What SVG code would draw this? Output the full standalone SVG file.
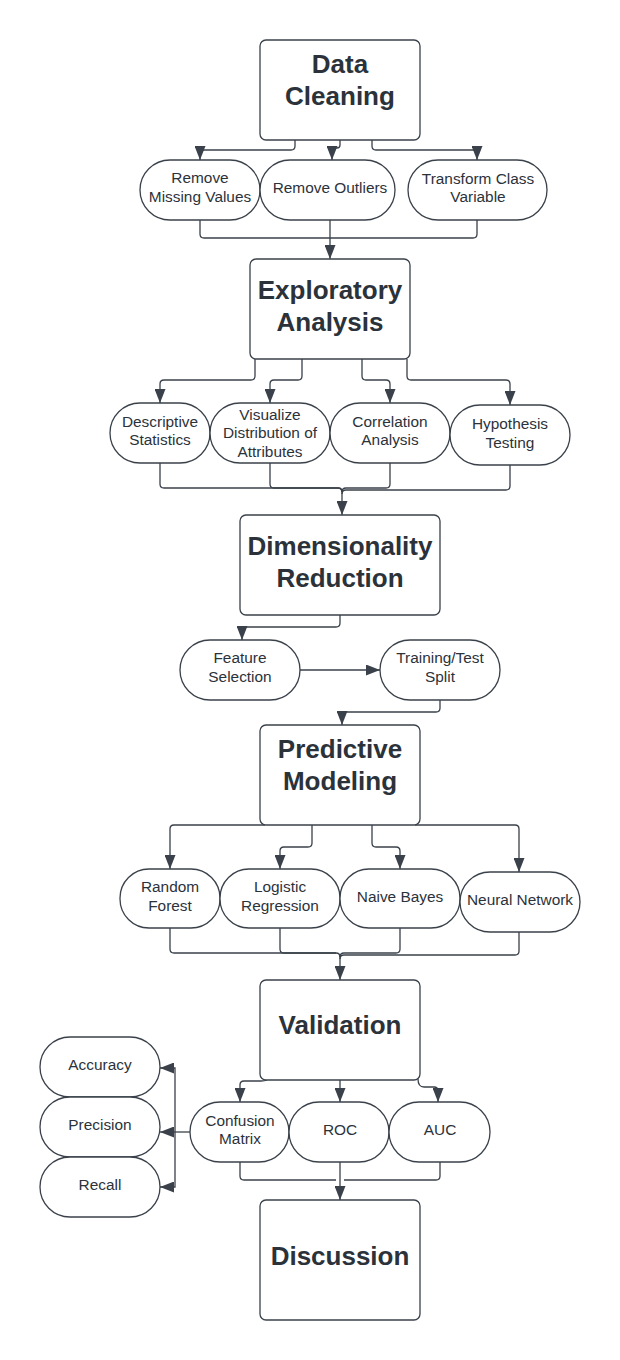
<svg xmlns="http://www.w3.org/2000/svg" width="620" height="1360" viewBox="0 0 620 1360">
<defs>
<marker id="ah" markerUnits="userSpaceOnUse" markerWidth="14" markerHeight="11" refX="14" refY="5.5" orient="auto">
<path d="M0,0 L14,5.5 L0,11 z" fill="#3a414a"/>
</marker>
<style>
.box{fill:#fff;stroke:#3a414a;stroke-width:1.3}
.pill{fill:#fff;stroke:#3a414a;stroke-width:1.3}
.t{font-family:"Liberation Sans",Arial,sans-serif;font-size:26px;font-weight:bold;fill:#2c323a;text-anchor:middle}
.s{font-family:"Liberation Sans",Arial,sans-serif;font-size:15.4px;fill:#2c323a;text-anchor:middle}
.c path{fill:none;stroke:#3a414a;stroke-width:1.3}
</style>
</defs>
<rect width="620" height="1360" fill="#fff"/>
<g class="c" id="connectors">
<path d="M295,140 V146 Q295,150 291,150 H204 Q200,150 200,154 V160" marker-end="url(#ah)"/>
<path d="M340,140 V145 Q340,148 337,148 H335 Q332,148 332,151 V160" marker-end="url(#ah)"/>
<path d="M372,140 V146 Q372,150 376,150 H473 Q477,150 477,154 V160" marker-end="url(#ah)"/>
<path d="M200,220 V234 Q200,238 204,238 H330"/>
<path d="M477,220 V234 Q477,238 473,238 H330"/>
<path d="M330,220 V259" marker-end="url(#ah)"/>
<path d="M255,359 V376 Q255,380 251,380 H164 Q160,380 160,384 V403" marker-end="url(#ah)"/>
<path d="M302,359 V376 Q302,380 298,380 H274 Q270,380 270,384 V403" marker-end="url(#ah)"/>
<path d="M362,359 V376 Q362,380 366,380 H386 Q390,380 390,384 V403" marker-end="url(#ah)"/>
<path d="M407,359 V376 Q407,380 411,380 H506 Q510,380 510,384 V405" marker-end="url(#ah)"/>
<path d="M160,463 V484 Q160,488 164,488 H338 Q342,488 342,492"/>
<path d="M270,463 V484 Q270,488 274,488 H338 Q342,488 342,492"/>
<path d="M390,463 V484 Q390,488 386,488 H346 Q342,488 342,492"/>
<path d="M510,465 V486 Q510,490 506,490 H346 Q342,490 342,494"/>
<path d="M342,490 V515" marker-end="url(#ah)"/>
<path d="M340,615 V623 Q340,627 336,627 H246 Q242,627 242,631 V640" marker-end="url(#ah)"/>
<path d="M300,670 H380" marker-end="url(#ah)"/>
<path d="M440,700 V708 Q440,712 436,712 H346 Q342,712 342,716 V725" marker-end="url(#ah)"/>
<path d="M265,825 H174 Q170,825 170,829 V869" marker-end="url(#ah)"/>
<path d="M312,825 V843 Q312,847 308,847 H284 Q280,847 280,851 V869" marker-end="url(#ah)"/>
<path d="M372,825 V843 Q372,847 376,847 H396 Q400,847 400,851 V869" marker-end="url(#ah)"/>
<path d="M415,825 H515 Q519,825 519,829 V872" marker-end="url(#ah)"/>
<path d="M170,928 V949 Q170,953 174,953 H336 Q340,953 340,957"/>
<path d="M280,928 V949 Q280,953 284,953 H336"/>
<path d="M400,928 V949 Q400,953 396,953 H344 Q340,953 340,957"/>
<path d="M519,932 V951 Q519,955 515,955 H344 Q340,955 340,959"/>
<path d="M340,955 V980" marker-end="url(#ah)"/>
<path d="M267,1080 Q265,1081 261,1081 H244 Q240,1081 240,1085 V1102" marker-end="url(#ah)"/>
<path d="M340,1080 V1102" marker-end="url(#ah)"/>
<path d="M418,1079 Q418,1087 424,1087 H434 Q438,1087 438,1091 V1102" marker-end="url(#ah)"/>
<path d="M240,1162 V1176 Q240,1180 244,1180 H336"/>
<path d="M440,1162 V1176 Q440,1180 436,1180 H344"/>
<path d="M340,1162 V1200" marker-end="url(#ah)"/>
<path d="M190,1132 H160" marker-end="url(#ah)"/>
<path d="M175,1132 V1068 H160" marker-end="url(#ah)"/>
<path d="M175,1132 V1187 H160" marker-end="url(#ah)"/>
</g>
<g id="data-cleaning"><rect class="box" x="260" y="40" width="160" height="100" rx="6"/><text class="t" x="340" y="73">Data</text><text class="t" x="340" y="105">Cleaning</text></g>
<g id="remove-missing"><rect class="pill" x="140" y="160" width="120" height="60" rx="30"/><text class="s" x="200" y="183">Remove</text><text class="s" x="200" y="202">Missing Values</text></g>
<g id="remove-outliers"><rect class="pill" x="260" y="160" width="135" height="60" rx="30"/><text class="s" x="330" y="193">Remove Outliers</text></g>
<g id="transform-class"><rect class="pill" x="408" y="160" width="139" height="60" rx="30"/><text class="s" x="478" y="184">Transform Class</text><text class="s" x="478" y="202">Variable</text></g>
<g id="exploratory"><rect class="box" x="250" y="259" width="160" height="100" rx="6"/><text class="t" x="330" y="299">Exploratory</text><text class="t" x="330" y="331">Analysis</text></g>
<g id="descriptive"><rect class="pill" x="110" y="403" width="100" height="60" rx="30"/><text class="s" x="160" y="427">Descriptive</text><text class="s" x="160" y="445">Statistics</text></g>
<g id="visualize"><rect class="pill" x="210" y="403" width="120" height="60" rx="30"/><text class="s" x="270" y="420">Visualize</text><text class="s" x="270" y="438">Distribution of</text><text class="s" x="270" y="457">Attributes</text></g>
<g id="correlation"><rect class="pill" x="330" y="403" width="120" height="60" rx="30"/><text class="s" x="390" y="427">Correlation</text><text class="s" x="390" y="445">Analysis</text></g>
<g id="hypothesis"><rect class="pill" x="450" y="405" width="120" height="60" rx="30"/><text class="s" x="510" y="429">Hypothesis</text><text class="s" x="510" y="448">Testing</text></g>
<g id="dimensionality"><rect class="box" x="240" y="515" width="200" height="100" rx="6"/><text class="t" x="340" y="555">Dimensionality</text><text class="t" x="340" y="587">Reduction</text></g>
<g id="feature-selection"><rect class="pill" x="180" y="640" width="120" height="60" rx="30"/><text class="s" x="240" y="663">Feature</text><text class="s" x="240" y="682">Selection</text></g>
<g id="train-test"><rect class="pill" x="380" y="640" width="120" height="60" rx="30"/><text class="s" x="440" y="663">Training/Test</text><text class="s" x="440" y="682">Split</text></g>
<g id="predictive"><rect class="box" x="260" y="725" width="160" height="100" rx="6"/><text class="t" x="340" y="758">Predictive</text><text class="t" x="340" y="790">Modeling</text></g>
<g id="random-forest"><rect class="pill" x="120" y="869" width="100" height="59" rx="29"/><text class="s" x="170" y="892">Random</text><text class="s" x="170" y="911">Forest</text></g>
<g id="logistic"><rect class="pill" x="220" y="869" width="120" height="59" rx="29"/><text class="s" x="280" y="892">Logistic</text><text class="s" x="280" y="911">Regression</text></g>
<g id="naive-bayes"><rect class="pill" x="340" y="869" width="120" height="59" rx="29"/><text class="s" x="400" y="902">Naive Bayes</text></g>
<g id="neural-network"><rect class="pill" x="460" y="872" width="120" height="60" rx="30"/><text class="s" x="520" y="905">Neural Network</text></g>
<g id="validation"><rect class="box" x="260" y="980" width="160" height="100" rx="6"/><text class="t" x="340" y="1034">Validation</text></g>
<g id="confusion"><rect class="pill" x="190" y="1102" width="99" height="60" rx="30"/><text class="s" x="240" y="1126">Confusion</text><text class="s" x="240" y="1144">Matrix</text></g>
<g id="roc"><rect class="pill" x="289" y="1102" width="100" height="60" rx="30"/><text class="s" x="340" y="1135">ROC</text></g>
<g id="auc"><rect class="pill" x="389" y="1102" width="101" height="60" rx="30"/><text class="s" x="440" y="1135">AUC</text></g>
<g id="accuracy"><rect class="pill" x="40" y="1037" width="120" height="60" rx="30"/><text class="s" x="100" y="1070">Accuracy</text></g>
<g id="precision"><rect class="pill" x="40" y="1097" width="120" height="60" rx="30"/><text class="s" x="100" y="1130">Precision</text></g>
<g id="recall"><rect class="pill" x="40" y="1157" width="120" height="60" rx="30"/><text class="s" x="100" y="1190">Recall</text></g>
<g id="discussion"><rect class="box" x="260" y="1200" width="160" height="120" rx="6"/><text class="t" x="340" y="1265">Discussion</text></g>
</svg>
